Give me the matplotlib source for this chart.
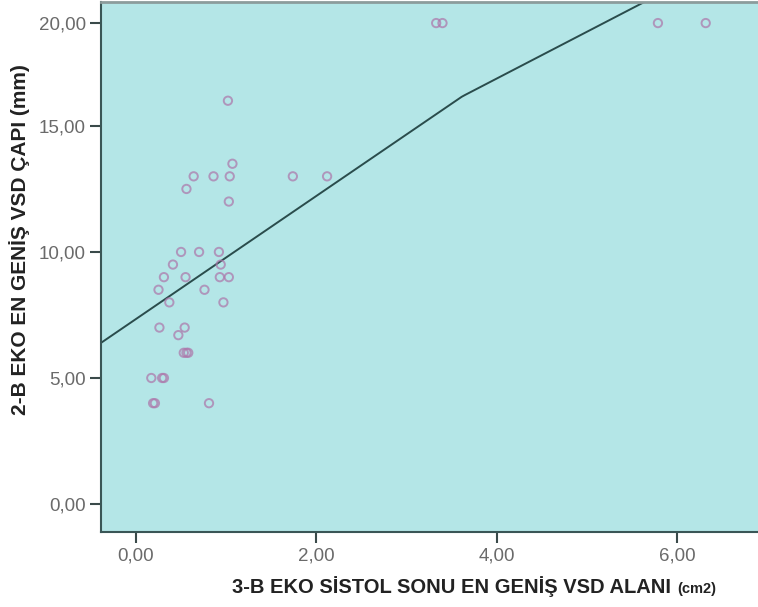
import numpy as np
import matplotlib
matplotlib.use("Agg")
import matplotlib.pyplot as plt
from matplotlib.ticker import FixedLocator, FuncFormatter
from matplotlib.offsetbox import TextArea, HPacker, AnchoredOffsetbox

# 3-D end-systolic VSD area (cm2) vs 2-D largest VSD diameter (mm)
vsd_area = [1.02, 1.07, 0.64, 0.86, 1.04, 1.74, 2.12, 0.56, 1.03,
            0.50, 0.70, 0.92, 0.41, 0.94, 0.31, 0.55, 0.93, 1.03,
            0.25, 0.76, 0.37, 0.97, 0.26, 0.54, 0.47,
            0.53, 0.56, 0.58, 0.17, 0.29, 0.31, 0.19, 0.21, 0.81,
            3.33, 3.40, 5.79, 6.32]
vsd_diam = [16.0, 13.5, 13.0, 13.0, 13.0, 13.0, 13.0, 12.5, 12.0,
            10.0, 10.0, 10.0, 9.5, 9.5, 9.0, 9.0, 9.0, 9.0,
            8.5, 8.5, 8.0, 8.0, 7.0, 7.0, 6.7,
            6.0, 6.0, 6.0, 5.0, 5.0, 5.0, 4.0, 4.0, 4.0,
            20.0, 20.0, 20.0, 20.0]

# linear fit line (total)
fit_intercept = 7.34
fit_slope = 2.44

x_ticks = [0, 2, 4, 6]
y_ticks = [0, 5, 10, 15, 20]

# upper part of the value axis is drawn compressed
brk, squeeze = 16.17, 0.76


def fwd(v):
    v = np.asarray(v, dtype=float)
    return np.where(v <= brk, v, brk + (v - brk) * squeeze)


def inv(d):
    d = np.asarray(d, dtype=float)
    return np.where(d <= brk, d, brk + (d - brk) / squeeze)


plt.rcParams['font.family'] = ['Liberation Sans', 'DejaVu Sans']

fig = plt.figure(figsize=(7.58, 6.07), dpi=100)
ax = fig.add_axes([101 / 758, 75 / 607, 1 - 101 / 758, 530 / 607])
ax.set_facecolor('#b4e6e7')
ax.set_yscale('function', functions=(fwd, inv))

xlo, xhi = -0.388, 6.9
ylo, yhi = -1.11, 21.1
ax.set_xlim(xlo, xhi)
ax.set_ylim(ylo, yhi)

fx = np.linspace(xlo, xhi, 400)
ax.plot(fx, fit_intercept + fit_slope * fx, color='#2a4c4c', lw=1.4, zorder=2)

ax.scatter(vsd_area, vsd_diam, s=36, facecolors='none',
           edgecolors='#ad78ab', linewidths=1.4, alpha=0.72, zorder=3)

ax.xaxis.set_major_locator(FixedLocator(x_ticks))
ax.yaxis.set_major_locator(FixedLocator(y_ticks))
comma = FuncFormatter(lambda v, p: f"{v:.2f}".replace('.', ','))
ax.xaxis.set_major_formatter(comma)
ax.yaxis.set_major_formatter(comma)
ax.yaxis.set_minor_locator(FixedLocator([]))

ax.tick_params(axis='both', direction='out', length=8, width=1.5,
               color='#3a4a4a', labelsize=13.5, labelcolor='#6a6a6a', pad=3)

for side in ('left', 'bottom'):
    ax.spines[side].set_color('#3a5656')
    ax.spines[side].set_linewidth(1.5)
ax.spines['top'].set_color('#8c9c9c')
ax.spines['top'].set_linewidth(2.0)
ax.spines['right'].set_visible(False)

ax.set_ylabel('2-B EKO EN GENİŞ VSD ÇAPI (mm)',
              fontsize=15, fontweight='bold', color='#222222')
ax.yaxis.set_label_coords(-71 / 657, (607 - 240 - 75) / 530)

# x-axis title with a smaller unit part
title_main = TextArea('3-B EKO SİSTOL SONU EN GENİŞ VSD ALANI ',
                      textprops=dict(fontsize=14.5, fontweight='bold',
                                     color='#222222'))
title_unit = TextArea('(cm2)', textprops=dict(fontsize=10.5, fontweight='bold',
                                              color='#222222'))
title_box = HPacker(children=[title_main, title_unit], align='baseline',
                    pad=0, sep=0)
fig.add_artist(AnchoredOffsetbox(loc='center', child=title_box,
                                 bbox_to_anchor=(474 / 758, 20 / 607),
                                 bbox_transform=fig.transFigure,
                                 frameon=False, pad=0, borderpad=0))

fig.savefig('out.png', dpi=100, facecolor='white')
